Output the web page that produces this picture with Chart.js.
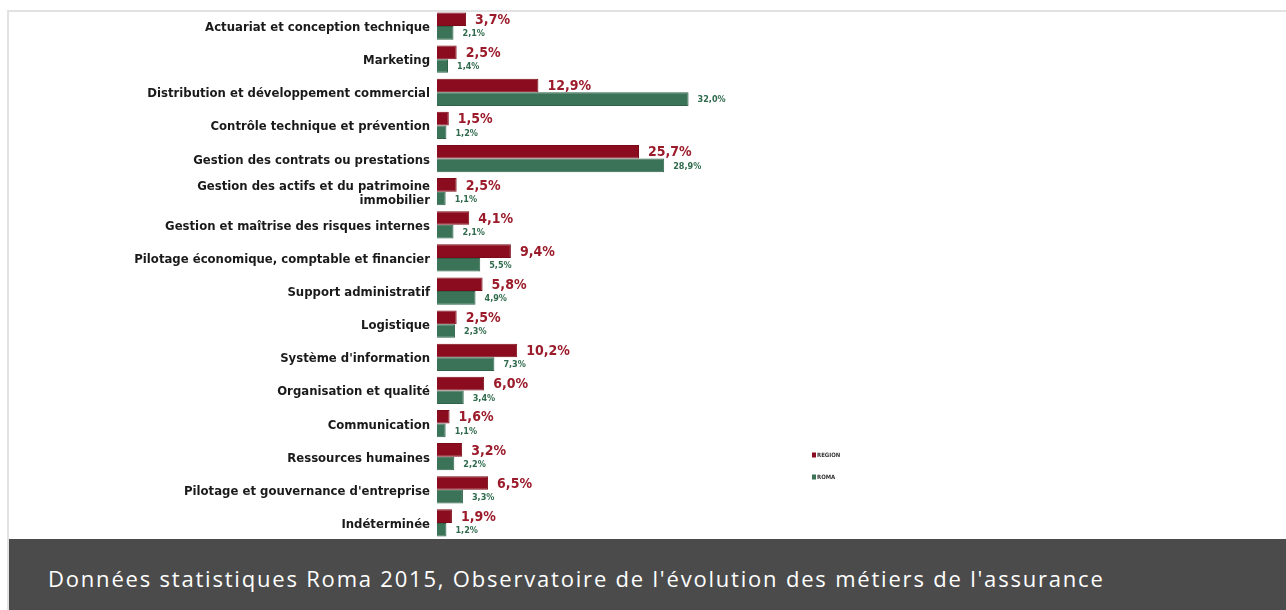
<!DOCTYPE html>
<html>
<head>
<meta charset="utf-8">
<script src="https://cdn.jsdelivr.net/npm/chart.js@4.4.1/dist/chart.umd.min.js"></script>
<style>
  html, body { margin: 0; padding: 0; background: #fff; }
  body { width: 1286px; height: 610px; position: relative; overflow: hidden; }
  #frame {
    position: absolute; left: 7px; top: 10px; width: 1279px; height: 600px;
    border-top: 2px solid #e2e2e2; border-left: 2px solid #e2e2e2; box-sizing: border-box;
  }
  #wrap { position: absolute; left: 0; top: 0; width: 1286px; height: 540px; }
  #caption {
    position: absolute; left: 9px; top: 539px; width: 1277px; height: 71px;
    background: #4b4b4b; color: #fff; overflow: hidden;
    font-family: "Open Sans", sans-serif; font-size: 22px; letter-spacing: 1.8px;
    line-height: 78px; padding-left: 39px; box-sizing: border-box; white-space: nowrap;
  }
</style>
</head>
<body>
<div id="frame"></div>
<div id="wrap"><canvas id="c"></canvas></div>
<div id="caption">Données statistiques Roma 2015, Observatoire de l'évolution des métiers de l'assurance</div>
<script>
// --- données ---
const categories = [
  "Actuariat et conception technique",
  "Marketing",
  "Distribution et développement commercial",
  "Contrôle technique et prévention",
  "Gestion des contrats ou prestations",
  ["Gestion des actifs et du patrimoine", "immobilier"],
  "Gestion et maîtrise des risques internes",
  "Pilotage économique, comptable et financier",
  "Support administratif",
  "Logistique",
  "Système d'information",
  "Organisation et qualité",
  "Communication",
  "Ressources humaines",
  "Pilotage et gouvernance d'entreprise",
  "Indéterminée"
];
const regionValues = [3.7, 2.5, 12.9, 1.5, 25.7, 2.5, 4.1, 9.4, 5.8, 2.5, 10.2, 6.0, 1.6, 3.2, 6.5, 1.9];
const romaValues   = [2.1, 1.4, 32.0, 1.2, 28.9, 1.1, 2.1, 5.5, 4.9, 2.3, 7.3, 3.4, 1.1, 2.2, 3.3, 1.2];
const seriesNames  = ["REGION", "ROMA"];

const RED = "#8a0c1e";
const GREEN = "#3a7357";
const LABEL_FONT = '"DejaVu Sans Condensed", "DejaVu Sans", sans-serif';

const fmt = v => v.toFixed(1).replace(".", ",") + "%";

// étiquettes de valeur au bout des barres
const valueLabels = {
  id: "valueLabels",
  afterDatasetsDraw(chart) {
    const ctx = chart.ctx;
    ctx.save();
    ctx.textBaseline = "middle";
    ctx.textAlign = "left";
    chart.data.datasets.forEach((ds, i) => {
      const meta = chart.getDatasetMeta(i);
      meta.data.forEach((bar, j) => {
        if (i === 0) {
          ctx.font = "bold 14px " + LABEL_FONT;
          ctx.fillStyle = "#9b1b2a";
        } else {
          ctx.font = "bold 9px " + LABEL_FONT;
          ctx.fillStyle = "#2f6a4c";
        }
        ctx.fillText(fmt(ds.data[j]), bar.x + 9, bar.y + 1);
      });
    });
    ctx.restore();
  }
};

// petite légende à droite
const miniLegend = {
  id: "miniLegend",
  afterDraw(chart) {
    const ctx = chart.ctx;
    ctx.save();
    ctx.font = "bold 6px " + LABEL_FONT;
    ctx.textBaseline = "middle";
    chart.data.datasets.forEach((ds, i) => {
      const y = 455 + i * 22;
      ctx.fillStyle = ds.backgroundColor;
      ctx.fillRect(812, y - 2.5, 4, 5);
      ctx.fillStyle = "#333";
      ctx.fillText(ds.label, 817, y);
    });
    ctx.restore();
  }
};

new Chart(document.getElementById("c"), {
  type: "bar",
  data: {
    labels: categories,
    datasets: [
      { label: seriesNames[0], data: regionValues, backgroundColor: RED, borderColor: "#7a0a18", borderWidth: 1 },
      { label: seriesNames[1], data: romaValues, backgroundColor: GREEN, borderColor: "#2f6249", borderWidth: 1 }
    ]
  },
  options: {
    indexAxis: "y",
    responsive: true,
    maintainAspectRatio: false,
    animation: false,
    categoryPercentage: 0.82,
    barPercentage: 1.0,
    layout: { padding: { top: 9.5, right: 0, bottom: 0.5, left: 0 } },
    plugins: {
      legend: { display: false },
      tooltip: { enabled: false }
    },
    scales: {
      x: {
        display: false,
        min: 0,
        max: 108
      },
      y: {
        afterFit: s => { s.width = 437; s.paddingTop = 0; s.paddingBottom = 0; },
        grid: { display: false, drawTicks: false },
        border: { display: false },
        ticks: {
          padding: 7,
          labelOffset: 2,
          color: "#1a1a1a",
          font: { family: '"DejaVu Sans", sans-serif', weight: "bold", size: 11.7, lineHeight: 1.2 }
        }
      }
    }
  },
  plugins: [valueLabels, miniLegend]
});
</script>
</body>
</html>
